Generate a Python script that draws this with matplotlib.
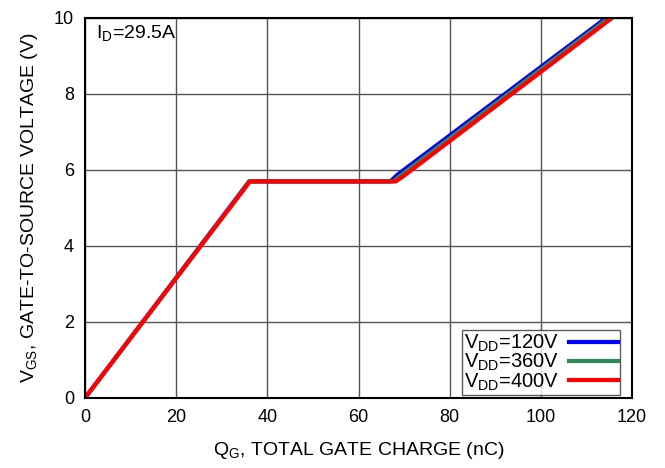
import matplotlib.pyplot as plt

plt.rcParams['font.family'] = ['Liberation Sans', 'DejaVu Sans']

# gate charge curves (nC, V)
qg_120 = [0, 36.0, 67.0, 68.6, 114.3]
vgs_120 = [0, 5.7, 5.7, 5.88, 10.0]
qg_360 = [0, 36.1, 67.6, 69.3, 114.9]
vgs_360 = [0, 5.7, 5.7, 5.86, 10.0]
qg_400 = [0, 36.2, 68.2, 70.0, 115.6]
vgs_400 = [0, 5.7, 5.7, 5.85, 10.0]

labels = ['V$_{\\mathregular{DD}}$=120V', 'V$_{\\mathregular{DD}}$=360V', 'V$_{\\mathregular{DD}}$=400V']
colors = ['#0000ff', '#2e8b57', '#ff0000']

fig = plt.figure(figsize=(6.65, 4.68), dpi=100)
ax = fig.add_axes([85 / 665, 70 / 468, 547 / 665, 380 / 468])

ax.plot(qg_120, vgs_120, color=colors[0], lw=3, label=labels[0], solid_joinstyle='round')
ax.plot(qg_360, vgs_360, color=colors[1], lw=3, label=labels[1], solid_joinstyle='round')
ax.plot(qg_400, vgs_400, color=colors[2], lw=3, label=labels[2], solid_joinstyle='round')

ax.set_xlim(0, 120)
ax.set_ylim(0, 10)
ax.set_xticks(range(0, 121, 20))
ax.set_yticks(range(0, 11, 2))
ax.grid(True, color='#555555', lw=1)
ax.tick_params(labelsize=13, length=0, pad=8)
for s in ax.spines.values():
    s.set_linewidth(1.5)

ax.set_xlabel('Q$_{\\mathregular{G}}$, TOTAL GATE CHARGE (nC)', fontsize=14, labelpad=10)
ax.set_ylabel('V$_{\\mathregular{GS}}$, GATE-TO-SOURCE VOLTAGE (V)', fontsize=14, labelpad=10)

ax.text(2.5, 9.85, 'I$_{\\mathregular{D}}$=29.5A', fontsize=14, va='top', ha='left')

leg = ax.legend(loc='lower right', bbox_to_anchor=(0.978, 0.008), markerfirst=False,
                fontsize=14.5, frameon=True, fancybox=False, edgecolor='#333333',
                handlelength=2.4, borderaxespad=0, labelspacing=-0.1, borderpad=0.12,
                handletextpad=0.5)
leg.get_frame().set_linewidth(1)

fig.savefig('out.png', dpi=100)
